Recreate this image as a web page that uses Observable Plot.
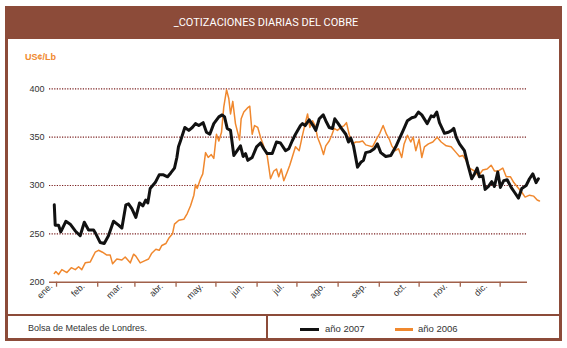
<!DOCTYPE html>
<html><head><meta charset="utf-8">
<script src="https://cdn.jsdelivr.net/npm/d3@7"></script>
<script src="https://cdn.jsdelivr.net/npm/@observablehq/plot@0.6"></script>
<style>
html,body{margin:0;padding:0;background:#fff;}
#wrap{position:relative;width:567px;height:348px;overflow:hidden;font-family:"Liberation Sans",Arial,sans-serif;}
.frame{position:absolute;left:5px;top:6px;width:551px;height:329px;border:3px solid #8C4B39;}
.band{position:absolute;left:5px;top:6px;width:557px;height:33px;background:#8C4B39;}
.title{position:absolute;left:0;top:6px;width:532px;height:33px;line-height:33px;text-align:center;color:#fff;font-family:Roboto,sans-serif;font-size:11px;}
.hdiv{position:absolute;left:5px;top:313.5px;width:557px;height:2.5px;background:#8C4B39;}
.vdiv{position:absolute;left:265.7px;top:315px;width:2.6px;height:25px;background:#8C4B39;}
.unit{position:absolute;left:25px;top:52px;color:#F0882E;font-weight:bold;font-size:9px;}
.src{position:absolute;left:28px;top:323px;font-size:9px;color:#333;}
.lg{position:absolute;top:322.5px;font-size:9.5px;color:#333;}
.sw{position:absolute;top:327.5px;height:3px;}
#chart{position:absolute;left:0;top:0;z-index:2;}
#chart svg{overflow:visible;}
g[aria-label="x-axis tick label"] text, g[aria-label="x-axis"] text{font-size:9px;}
g[aria-label="x-axis tick label"]{transform:translate(-14px,3px);}
g[aria-label="x-axis tick"] path, g[aria-label="x-axis"] line{stroke:#A0604A;stroke-width:1.3;}
</style>
</head><body>
<div id="wrap">
  <div class="frame"></div>
  <div class="band"></div>
  <div class="title">_COTIZACIONES DIARIAS DEL COBRE</div>
  <div class="hdiv"></div>
  <div class="vdiv"></div>
  <div class="unit">US¢/Lb</div>
  <div class="src">Bolsa de Metales de Londres.</div>
  <div class="sw" style="left:300px;width:19px;background:#111;"></div>
  <div class="lg" style="left:325px;">año 2007</div>
  <div class="sw" style="left:395px;width:18px;background:#F0882E;"></div>
  <div class="lg" style="left:418px;">año 2006</div>
  <div id="chart"></div>
</div>
<script>
const monthStarts = [0,31,59,90,120,151,181,212,243,273,304,334];
const monthLabels = ["ene.","feb.","mar.","abr.","may.","jun.","jul.","ago.","sep.","oct.","nov.","dic."];
const yTicks = [200,250,300,350,400];
const gridLevels = [250,300,350,400];
const xExtent = [-5.3, 354.6];

// año 2007 (day of year, US¢/Lb)
const day2007 = [-1.7,-1.0,1.5,3.2,7.0,10.3,14.1,17.8,20.9,24.1,27.9,29.6,32.9,35.9,39.1,42.9,46.7,49.2,52.2,54.2,56.7,59.7,62.5,65.0,67.2,68.7,70.5,74.3,77.3,80.5,83.6,86.0,88.8,90.6,91.8,
93.3,96.6,99.6,102.2,104.6,107.1,110.4,112.9,115.4,118.4,122.2,124.7,126.5,128.5,131.0,133.5,136.0,138.5,140.5,142.3,144.0,147.3,150.6,153.6,156.1,158.6,162.4,165.6,168.6,172.4,174.9,177.4,179.9,183.7,
185.2,187.2,190.2,193.2,195.2,197.8,200.8,202.7,205.3,207.8,209.5,212.1,214.5,217.8,219.8,221.5,223.6,226.6,229.1,231.1,232.8,235.9,239.2,241.6,244.1,247.9,251.7,255.4,258.0,261.0,264.2,267.5,270.0,272.5,275.0,
279.1,282.1,284.0,286.3,288.3,292.1,295.1,297.6,299.1,300.9,303.4,307.1,309.6,312.6,314.7,316.7,318.4,320.9,322.7,325.2,327.7,329.7,332.2,334.2,336.7,339.3,342.3,344.8,347.8,350.3,353.6,356.1,358.6,361.1,362.8];
const price2007 = [280,259,259,252,263,260,253,248,262,254,254,250,241,240,248,263,259,256,280,281,276,267,282,279,285,282,297,303,311,311,309,313,318,329,340,
346,360,357,360,364,362,365,355,353,364,371,373,371,359,357,331,336,341,330,333,326,329,340,344,338,333,333,345,344,336,338,346,353,362,
364,362,368,362,357,369,373,367,360,359,369,364,359,353,345,349,341,319,324,326,334,335,338,343,334,330,331,340,348,357,367,370,371,376,373,
364,372,371,376,365,354,355,357,359,350,343,336,322,307,312,318,309,310,296,299,304,299,314,298,305,306,298,293,287,297,300,307,312,303,307];

// año 2006 (day of year, US¢/Lb)
const day2006 = [-1.7,-0.5,1.5,4.0,7.8,11.1,14.1,16.6,19.0,21.6,25.4,29.1,31.6,34.6,37.9,40.4,42.2,45.4,49.2,51.7,55.5,58.0,59.7,63.0,66.2,69.3,71.7,74.8,77.3,79.3,82.3,84.8,87.3,88.8,92.1,95.8,98.4,100.9,103.4,104.6,105.9,108.4,110.1,112.2,114.2,116.5,118.4,120.4,122.2,124.2,125.9,128.0,129.7,131.0,132.7,134.7,137.8,139.0,141.0,143.6,145.5,147.3,149.1,151.5,153.6,156.1,158.6,161.1,163.6,165.6,167.3,169.2,171.1,173.7,175.6,177.4,179.9,182.7,185.2,187.2,189.0,190.7,192.7,194.7,196.5,199.0,201.0,202.7,205.3,207.2,209.0,211.5,214.0,216.6,218.3,220.3,222.8,225.3,227.9,230.4,232.8,235.4,237.9,240.9,243.4,245.9,248.4,250.5,252.4,255.0,257.5,259.9,261.7,264.2,266.7,268.5,270.5,273.0,275.0,277.0,280.0,283.3,286.6,289.6,293.4,297.1,300.9,303.4,305.9,308.4,310.9,314.7,317.7,320.9,324.2,327.2,329.7,332.7,336.0,338.6,341.8,344.3,347.3,350.3,352.8,356.1,359.3,361.9,363.6];
const price2006 = [209,211,208,213,210,215,213,216,213,220,221,231,233,231,228,228,219,224,223,226,220,229,227,220,222,224,230,234,233,238,240,246,250,260,264,265,271,279,290,301,297,307,312,334,329,332,328,353,346,355,381,399,390,374,387,364,347,369,376,380,382,353,362,360,350,340,331,307,315,317,309,317,305,314,321,329,340,336,352,364,374,360,367,362,350,341,332,341,346,352,359,357,360,362,365,353,343,345,345,346,342,341,340,348,354,362,353,348,341,336,338,329,343,352,345,350,336,348,329,340,343,345,350,345,341,340,334,330,331,326,318,315,310,316,317,321,315,315,318,309,309,303,298,293,288,290,289,285,284];

const s2007 = day2007.map((d,i)=>({d, v: price2007[i]}));
const s2006 = day2006.map((d,i)=>({d, v: price2006[i]}));

const chart = Plot.plot({
  width: 567, height: 348,
  marginLeft: 49, marginRight: 40, marginTop: 88.3, marginBottom: 66.3,
  style: {background: "transparent", color: "#333", fontFamily: "'Liberation Sans', Arial, sans-serif", fontSize: "9px", overflow: "visible"},
  x: {domain: xExtent, ticks: monthStarts, tickFormat: d => monthLabels[monthStarts.indexOf(d)], tickRotate: -45, tickSize: 5, tickPadding: 3, label: null},
  y: {domain: [200, 400], ticks: yTicks, tickSize: 0, tickPadding: 5, label: null},
  marks: [
    Plot.ruleY(gridLevels, {stroke: "#7A1F1F", strokeWidth: 1.2, strokeDasharray: "1.2,1.4"}),
    Plot.ruleY([200], {stroke: "#A0604A", strokeWidth: 1.5}),
    Plot.line(s2006, {x: "d", y: "v", stroke: "#F0882E", strokeWidth: 1.5}),
    Plot.line(s2007, {x: "d", y: "v", stroke: "#111", strokeWidth: 3, strokeLinejoin: "round"})
  ]
});
document.getElementById("chart").appendChild(chart);
// the first month label sits a little further right in the reference
const firstLabel = chart.querySelector('g[aria-label="x-axis tick label"] text') || chart.querySelector('g[aria-label="x-axis"] .tick text');
if (firstLabel) {
  const t = firstLabel.getAttribute("transform") || "";
  firstLabel.setAttribute("transform", "translate(9,0) " + t);
}
</script>
</body></html>
